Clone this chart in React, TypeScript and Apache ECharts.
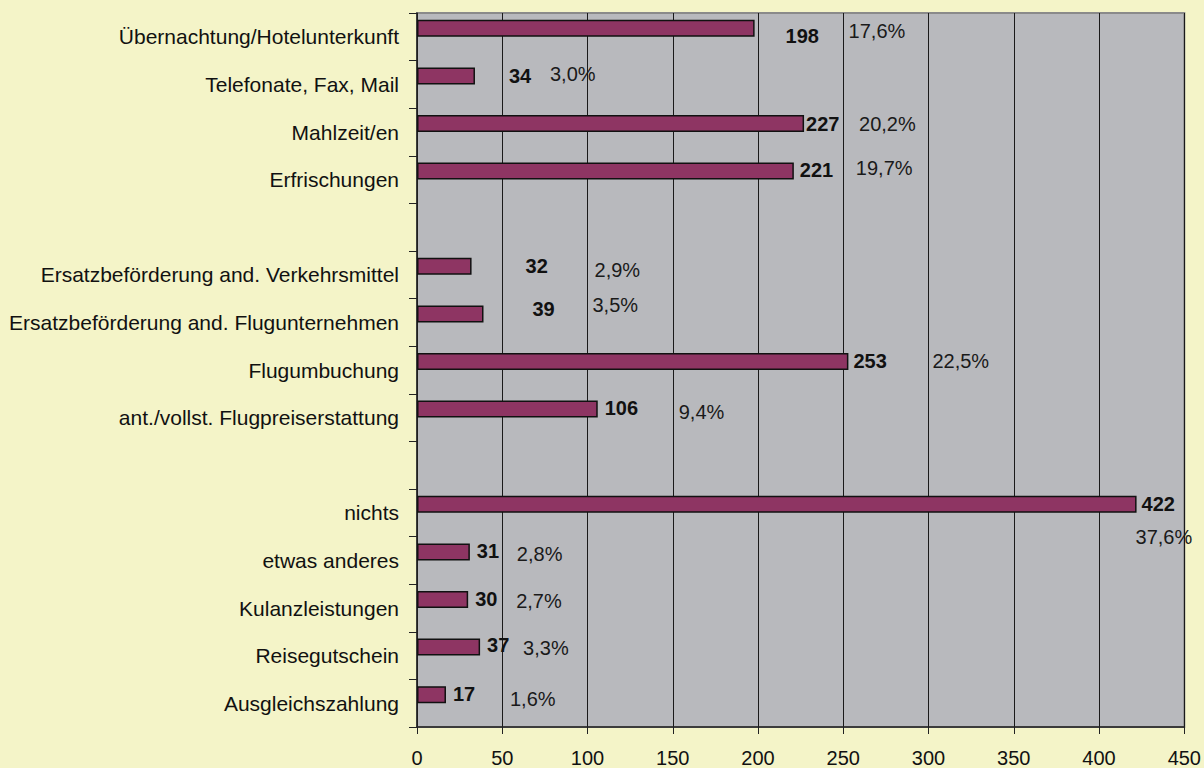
import React, { useEffect, useRef } from "react";
import * as echarts from "echarts";

const categories = [
  "Übernachtung/Hotelunterkunft",
  "Telefonate, Fax, Mail",
  "Mahlzeit/en",
  "Erfrischungen",
  " ",
  "Ersatzbeförderung and. Verkehrsmittel",
  "Ersatzbeförderung and. Flugunternehmen",
  "Flugumbuchung",
  "ant./vollst. Flugpreiserstattung",
  "  ",
  "nichts",
  "etwas anderes",
  "Kulanzleistungen",
  "Reisegutschein",
  "Ausgleichszahlung",
];

const counts: (number | null)[] = [198, 34, 227, 221, null, 32, 39, 253, 106, null, 422, 31, 30, 37, 17];
const percents: (string | null)[] = ["17,6%", "3,0%", "20,2%", "19,7%", null, "2,9%", "3,5%", "22,5%", "9,4%", null, "37,6%", "2,8%", "2,7%", "3,3%", "1,6%"];

const xTicks = { min: 0, max: 450, interval: 50 };

// label offsets (pixels) relative to bar end
const valueOffsets: number[][] = [
  [31, 8], [34, 0], [2, 0], [6, -1], [0, 0], [54, 0], [49, -5], [5, -1], [7, -1], [0, 0], [5, 0], [7, -1], [7, -1], [7, -2], [7, -1],
];
const pctOffsets: number[][] = [
  [94, -14], [75, -19], [55, -17], [62, -20], [0, 0], [123, -13], [109, -26], [84, -18], [81, -14], [0, 0], [-1, 16], [47, -15], [48, -16], [43, -16], [64, -13],
];

const FONT = "'Liberation Sans', Arial, sans-serif";

export default function App() {
  const ref = useRef<HTMLDivElement>(null);
  useEffect(() => {
    if (!ref.current) return;
    const chart = echarts.init(ref.current, undefined, { renderer: "svg" });
    const valueData = counts.map((v, i) => ({
      value: v,
      label: { offset: valueOffsets[i] },
    }));
    const pctData = counts.map((v, i) => ({
      value: v,
      label: { offset: pctOffsets[i], formatter: percents[i] ?? "" },
    }));
    chart.setOption({
      animation: false,
      backgroundColor: "#F4F4C8",
      textStyle: { fontFamily: FONT },
      grid: {
        left: 417,
        right: 19,
        top: 13,
        bottom: 41,
        show: true,
        backgroundColor: "#B8B9BD",
        borderColor: "#8A8A8A",
        borderWidth: 2,
      },
      xAxis: {
        type: "value",
        min: xTicks.min,
        max: xTicks.max,
        interval: xTicks.interval,
        axisLine: { show: true, lineStyle: { color: "#222", width: 1.5 } },
        axisTick: { show: true, length: 7, lineStyle: { color: "#222" } },
        splitLine: { show: true, lineStyle: { color: "#1a1a1a", width: 1 } },
        axisLabel: { fontSize: 20, color: "#111", margin: 21, fontFamily: FONT },
      },
      yAxis: {
        type: "category",
        inverse: true,
        data: categories,
        axisLine: { show: true, onZero: false, lineStyle: { color: "#222", width: 1.5 } },
        axisTick: { show: true, length: 8, lineStyle: { color: "#222" } },
        axisLabel: { fontSize: 21, color: "#111", margin: 18, fontFamily: FONT, interval: 0 },
        splitLine: { show: false },
      },
      series: [
        {
          type: "bar",
          data: valueData,
          barWidth: 17,
          barGap: "0%",
          itemStyle: { color: "#8E3563", borderColor: "#111", borderWidth: 1.5 },
          label: {
            show: true,
            position: "right",
            distance: 0,
            fontSize: 20,
            fontWeight: "bold",
            color: "#111",
            fontFamily: FONT,
          },
        },
        {
          type: "bar",
          data: pctData,
          barWidth: 17,
          barGap: "0%",
          silent: true,
          itemStyle: { color: "rgba(0,0,0,0)" },
          label: {
            show: true,
            position: "right",
            distance: 0,
            fontSize: 20,
            color: "#1a1a1a",
            fontFamily: FONT,
          },
        },
      ],
    });
    return () => chart.dispose();
  }, []);
  return <div ref={ref} style={{ position: "fixed", left: 0, top: 0, width: 1204, height: 768 }} />;
}
